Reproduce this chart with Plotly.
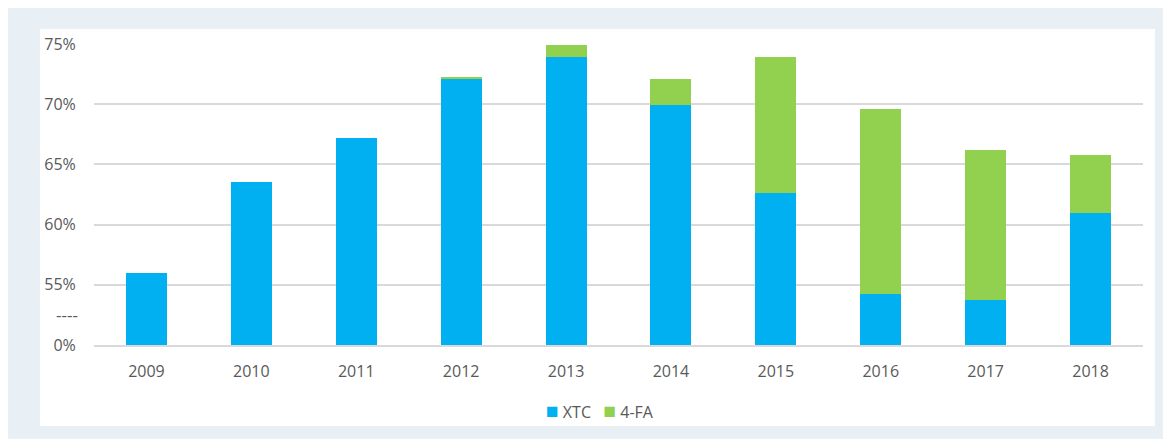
import plotly.graph_objects as go

# dados (eixo quebrado: 50 = "0%")
anos = ["2009", "2010", "2011", "2012", "2013", "2014", "2015", "2016", "2017", "2018"]
xtc = [56.0, 63.5, 67.2, 72.1, 73.9, 69.9, 62.6, 54.2, 53.7, 61.0]
fa4 = [0.0, 0.0, 0.0, 0.2, 1.0, 2.2, 11.3, 15.4, 12.5, 4.8]

y_ticks = [50, 55, 60, 65, 70, 75]
y_labels = ["0%", "55%", "60%", "65%", "70%", "75%"]
quebra = 52.5

cor_xtc = "#00b0f0"
cor_fa = "#92d050"
cinza = "#595959"
fonte = dict(family="Open Sans, Segoe UI, sans-serif", size=16, color=cinza)

fig = go.Figure()
fig.add_trace(go.Bar(x=anos, y=xtc, name="XTC", marker=dict(color=cor_xtc, line=dict(width=0))))
fig.add_trace(go.Bar(x=anos, y=fa4, name="4-FA", marker=dict(color=cor_fa, line=dict(width=0))))

# caixa branca sobre o fundo azul claro
fig.add_shape(type="rect", xref="paper", yref="paper", x0=-0.0515, x1=1.0114, y0=-0.269, y1=1.0498,
              fillcolor="white", line=dict(width=0), layer="below")

# marca da quebra do eixo
fig.add_annotation(x=0, xref="paper", y=quebra, yref="y", text="----", showarrow=False,
                   xanchor="right", xshift=-14, font=dict(family="Open Sans", size=17, color=cinza))

# legenda feita à mão
fig.add_annotation(x=0.482, xref="paper", y=-0.216, yref="paper", showarrow=False,
                   xanchor="center", yanchor="middle", font=fonte,
                   text=f"<span style='color:{cor_xtc};font-size:21px'>■</span> XTC   "
                        f"<span style='color:{cor_fa};font-size:21px'>■</span> 4-FA")

fig.update_layout(
    barmode="stack",
    bargap=0.61,
    width=1171, height=439,
    margin=dict(l=86, r=36, t=36, b=102),
    paper_bgcolor="#e8eff5",
    plot_bgcolor="rgba(0,0,0,0)",
    font=fonte,
    showlegend=False,
    xaxis=dict(showgrid=False, showline=True, linecolor="#d9d9d9", linewidth=1.5,
               ticks="outside", ticklen=11, tickcolor="rgba(0,0,0,0)", tickfont=fonte),
    yaxis=dict(range=[50, 75], tickvals=y_ticks, ticktext=y_labels, showgrid=True,
               gridcolor="#d9d9d9", gridwidth=1.5, zeroline=False, showline=False,
               ticks="outside", ticklen=14, tickcolor="rgba(0,0,0,0)", tickfont=fonte),
)

fig.write_html("out.html")
